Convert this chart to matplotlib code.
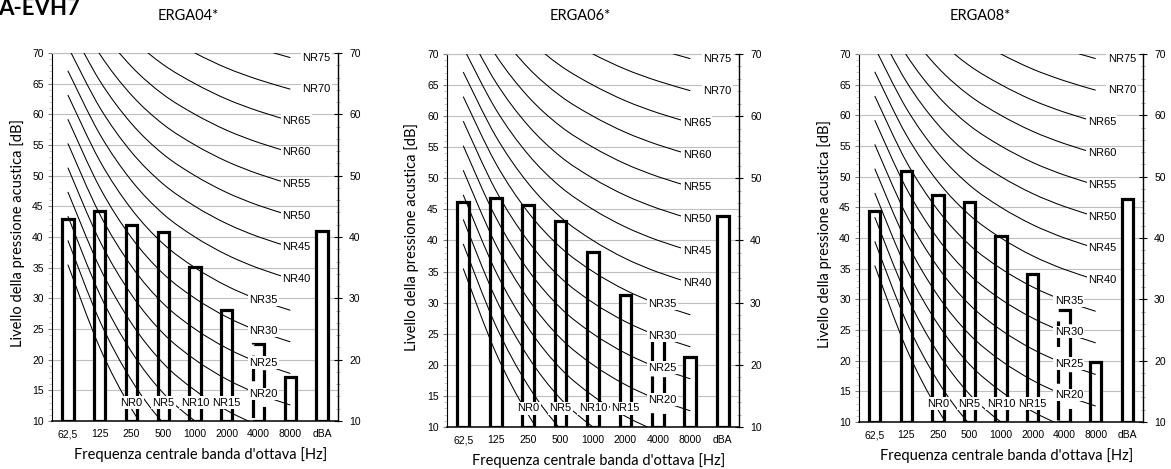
import numpy as np
import matplotlib
matplotlib.use('Agg')
import matplotlib.pyplot as plt
from matplotlib.path import Path
from matplotlib.patches import PathPatch

CATEGORIE = ['62,5', '125', '250', '500', '1000', '2000', '4000', '8000', 'dBA']

# curve NR: L = a + b * NR per banda d'ottava (62,5 ... 8000 Hz)
NR_A = [35.5, 22.0, 12.0, 4.8, 0.0, -3.5, -6.1, -8.0]
NR_B = [0.790, 0.870, 0.930, 0.974, 1.000, 1.015, 1.025, 1.030]
LIVELLI_NR = [0, 5, 10, 15, 20, 25, 30, 35, 40, 45, 50, 55, 60, 65, 70, 75]

TITOLI = ['ERGA04*', 'ERGA06*', 'ERGA08*']
VALORI_ERGA04 = [43.0, 44.2, 41.9, 40.8, 35.1, 28.1, 22.6, 17.1, 41.0]
VALORI_ERGA06 = [46.2, 46.9, 45.7, 43.1, 38.2, 31.2, 24.0, 21.3, 43.9]
VALORI_ERGA08 = [44.4, 51.0, 47.0, 45.9, 40.4, 34.2, 28.3, 19.8, 46.4]
BANDA_TRATTEGGIATA = '4000'

FONT_NUM = 'Liberation Sans'
FONT_TESTO = 'Lato'


def curva_liscia(x, y):
    # spline tipo Excel (Catmull-Rom -> Bezier cubiche)
    pts = np.column_stack([x, y]).astype(float)
    p = np.vstack([pts[0], pts, pts[-1]])
    verts = [pts[0]]
    codes = [Path.MOVETO]
    for i in range(len(pts) - 1):
        p0, p1, p2, p3 = p[i], p[i + 1], p[i + 2], p[i + 3]
        verts += [p1 + (p2 - p0) / 6, p2 - (p3 - p1) / 6, p2]
        codes += [Path.CURVE4] * 3
    return Path(verts, codes)


def posizione_etichetta(nr, curva):
    if nr < 20:
        idx = [2, 3, 4, 5][nr // 5]
        return idx, 13.0
    if nr < 40:
        return 6.15, curva[6]
    if nr < 70:
        return 7.2, curva[7]
    return 7.83, curva[7]


def disegna_pannello(ax, valori):
    xpos = np.arange(len(CATEGORIE))
    xnr = np.arange(len(NR_A))
    a = np.array(NR_A)
    b = np.array(NR_B)

    ax.set_xlim(-0.5, len(CATEGORIE) - 0.5)
    ax.set_ylim(10, 70)

    barre = ax.bar(xpos, np.array(valori) - 10, bottom=10, width=0.36,
                   facecolor='white', edgecolor='black', linewidth=2.3, zorder=2)
    for cat, barra in zip(CATEGORIE, barre):
        if cat == BANDA_TRATTEGGIATA:
            barra.set_linestyle((0, (8, 3.5)))

    for nr in LIVELLI_NR:
        curva = a + b * nr
        ax.add_patch(PathPatch(curva_liscia(xnr, curva), fill=False,
                               edgecolor='black', linewidth=0.75, zorder=3))
        xe, ye = posizione_etichetta(nr, curva)
        ax.text(xe, ye, f'NR{nr}', ha='center', va='center', fontsize=8,
                family=FONT_NUM, zorder=5,
                bbox=dict(boxstyle='square,pad=0.12', fc='white', ec='none'))

    ax.set_xticks(xpos)
    ax.set_xticklabels(CATEGORIE, family=FONT_NUM, fontsize=7.5)
    ax.tick_params(axis='x', length=0, pad=6)

    ax.set_yticks(np.arange(10, 71, 5))
    ax.set_yticks(np.arange(10, 71, 1), minor=True)
    for t in ax.get_yticklabels():
        t.set_family(FONT_NUM)
    ax.tick_params(axis='y', which='major', direction='out', length=3, pad=3,
                   labelsize=7.5, color='#808080')
    ax.tick_params(axis='y', which='minor', direction='out', length=2.5,
                   color='#c0c0c0')
    ax.grid(axis='y', which='major', color='#bfbfbf', linewidth=0.8, zorder=1)
    ax.set_axisbelow(True)

    ax.spines['top'].set_color('#bfbfbf')
    ax.spines['right'].set_visible(False)
    ax.spines['left'].set_linewidth(0.8)
    ax.spines['bottom'].set_linewidth(1.1)

    ax2 = ax.twinx()
    ax2.set_ylim(10, 70)
    ax2.set_yticks(np.arange(10, 71, 10))
    ax2.set_yticks(np.arange(10, 71, 2), minor=True)
    for t in ax2.get_yticklabels():
        t.set_family(FONT_NUM)
    ax2.tick_params(axis='y', which='major', direction='inout', length=6, pad=5,
                    labelsize=7.5)
    ax2.tick_params(axis='y', which='minor', direction='inout', length=3,
                    color='#a0a0a0')
    for lato in ['top', 'left', 'bottom']:
        ax2.spines[lato].set_visible(False)
    ax2.spines['right'].set_linewidth(1.0)

    ax.text(0.52, -0.09, "Frequenza centrale banda d'ottava [Hz]", transform=ax.transAxes,
            ha='center', va='center', fontsize=10.5, family=FONT_TESTO)
    ax.text(-0.12, 0.51, 'Livello della pressione acustica [dB]', transform=ax.transAxes,
            ha='center', va='center', rotation=90, fontsize=10.5, family=FONT_TESTO)


def main():
    larghezza, altezza = 1171, 469
    fig = plt.figure(figsize=(larghezza / 100, altezza / 100), dpi=100)

    # posizioni in pixel: sinistra, alto, destra, basso
    riquadri = [(52, 53, 338, 421), (447, 54, 739, 427), (859, 54, 1143, 422)]
    centri_titolo = [188, 580, 980]
    serie = [VALORI_ERGA04, VALORI_ERGA06, VALORI_ERGA08]

    for (x0, y0, x1, y1), titolo, xc, valori in zip(riquadri, TITOLI, centri_titolo, serie):
        ax = fig.add_axes([x0 / larghezza, 1 - y1 / altezza,
                           (x1 - x0) / larghezza, (y1 - y0) / altezza])
        disegna_pannello(ax, valori)
        fig.text(xc / larghezza, 1 - 20.5 / altezza, titolo, ha='center', va='baseline',
                 fontsize=10.5, family=FONT_TESTO)

    # titolo generale tagliato in alto come nell'originale
    fig.text(-0.002, 1 - 15 / altezza, 'A-EVH7', ha='left', va='baseline',
             fontsize=16, fontweight='bold', family=FONT_TESTO)

    fig.savefig('out.png', dpi=100)
    plt.close(fig)


if __name__ == '__main__':
    main()
